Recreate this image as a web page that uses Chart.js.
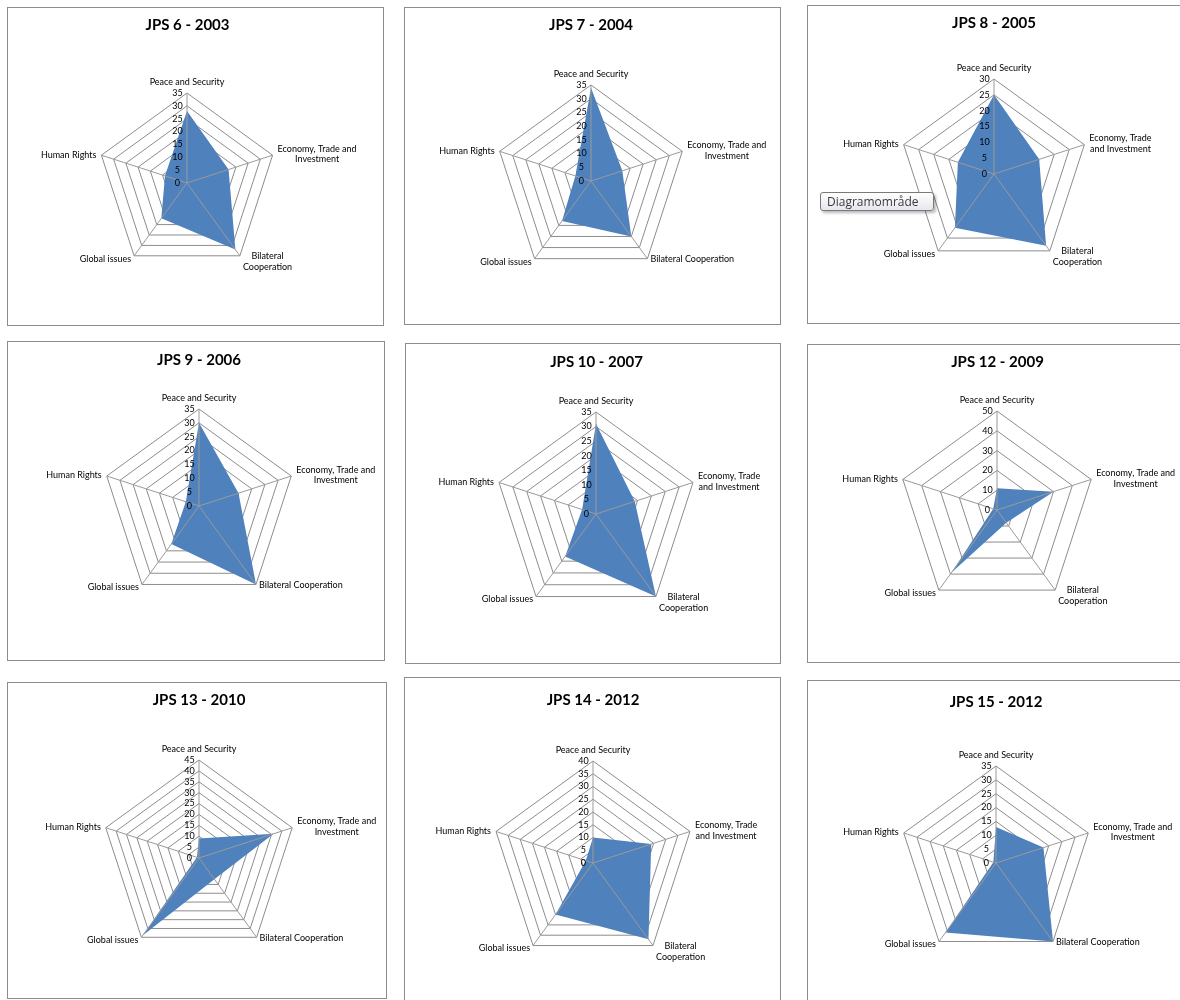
<!DOCTYPE html>
<html>
<head>
<meta charset="utf-8">
<title>JPS radar charts</title>
<script src="https://cdn.jsdelivr.net/npm/chart.js@4.4.1/dist/chart.umd.min.js"></script>
<style>
  html, body { margin: 0; padding: 0; background: #ffffff; width: 1180px; height: 1000px; overflow: hidden; }
  .panel { position: absolute; box-sizing: border-box; border: 1px solid #8d8d8d; background: #ffffff; overflow: hidden; }
  .panel canvas { position: absolute; left: 0; top: 0; }
  .hint {
    position: absolute; left: 820px; top: 192px; width: 114px; height: 19px; box-sizing: border-box;
    border: 1px solid #7a7a7a; border-radius: 3px;
    background: linear-gradient(#ffffff, #e6e7ee);
    box-shadow: 2px 2px 3px rgba(0, 0, 0, 0.28);
    font: 12px "Open Sans", sans-serif; color: #3b3b3b; line-height: 17px; padding-left: 6px;
    z-index: 5; white-space: nowrap;
  }
</style>
</head>
<body>
<div id="board"></div>
<div class="hint">Diagramområde</div>
<script>
// ---- data -------------------------------------------------------------
const categories = ['Peace and Security', 'Economy, Trade and Investment', 'Bilateral Cooperation', 'Global issues', 'Human Rights'];
const titles = ['JPS 6 - 2003', 'JPS 7 - 2004', 'JPS 8 - 2005', 'JPS 9 - 2006', 'JPS 10 - 2007',
                'JPS 12 - 2009', 'JPS 13 - 2010', 'JPS 14 - 2012', 'JPS 15 - 2012'];

const jps6  = [28, 17, 32, 17, 9];
const jps7  = [34, 12, 25, 18, 6];
const jps8  = [25, 15, 28, 21, 12];
const jps9  = [30, 15, 35, 17, 5];
const jps10 = [31, 14, 35, 18, 5];
const jps12 = [11, 30, 8, 39, 2];
const jps13 = [9, 36, 12, 44, 1];
const jps14 = [10, 24, 37, 25, 3];
const jps15 = [13, 18, 35, 31, 1];
const series = [jps6, jps7, jps8, jps9, jps10, jps12, jps13, jps14, jps15];

// value axis: top of scale and step between rings
const axisMax  = [35, 35, 30, 35, 35, 50, 45, 40, 35];
const axisStep = [5, 5, 5, 5, 5, 10, 5, 5, 5];

// how the two long category names wrap in each panel
const econLinesA = ['Economy, Trade and', 'Investment'];
const econLinesB = ['Economy, Trade', 'and Investment'];
const bilatLines1 = ['Bilateral Cooperation'];
const bilatLines2 = ['Bilateral', 'Cooperation'];
const econWrap  = ['A', 'A', 'B', 'A', 'B', 'A', 'A', 'B', 'A'];
const bilatWrap = [2, 1, 2, 1, 2, 2, 1, 2, 1];

// ---- layout -----------------------------------------------------------
// frame: [left, top, width, height]; centre/radius of the radar web; title centre line
const panels = [
  { frame: [7, 7, 377, 319],     titleY: 25,    centre: [187.5, 183.5], radius: 90.5 },
  { frame: [404, 7, 377, 318],   titleY: 25,    centre: [591, 181],     radius: 96 },
  { frame: [807, 5, 380, 319],   titleY: 23,    centre: [994, 174],     radius: 95 },
  { frame: [7, 341, 378, 320],   titleY: 360,   centre: [199, 505.7],   radius: 96.7 },
  { frame: [405, 343, 376, 321], titleY: 361.7, centre: [596.5, 514],   radius: 102 },
  { frame: [807, 344, 380, 319], titleY: 362.3, centre: [997.5, 510],   radius: 99 },
  { frame: [7, 682, 380, 317],   titleY: 700,   centre: [199, 858.5],   radius: 98.5 },
  { frame: [404, 677, 377, 330], titleY: 700,   centre: [593, 862.7],   radius: 101.7 },
  { frame: [807, 680, 380, 330], titleY: 701.7, centre: [996, 863.3],   radius: 96.7 }
];

const FAMILY = 'Lato, "Open Sans", sans-serif';
const TITLE_SIZE = 15;
const TITLE_LH = TITLE_SIZE * 1.2;
const LABEL_SIZE = 9;
const TICK_SIZE = 9;
const FILL = '#4f81bd';
const GRID = '#8c8c8c';
const SPOKE = '#9a9a9a';
// trailing spaces push the value labels to the left of the vertical spoke
const TICK_PAD = '\u2003\u2003\u2002\u2009';

Chart.defaults.font.family = FAMILY;
Chart.defaults.color = '#000000';

// Category names placed around the web the way office charts do it:
// side labels centred on their vertex, wrapped lines centred on each other.
const webLabels = {
  id: 'webLabels',
  afterDraw(chart, args, opts) {
    const s = chart.scales.r;
    const ctx = chart.ctx;
    const lh = LABEL_SIZE * 1.2;
    ctx.save();
    ctx.font = `${LABEL_SIZE}px ${FAMILY}`;
    ctx.fillStyle = '#000000';
    ctx.textAlign = 'center';
    ctx.textBaseline = 'middle';
    const n = opts.lines.length;
    opts.lines.forEach((block, i) => {
      const v = s.getPointPosition(i, s.drawingArea);
      const bw = Math.max(...block.map(t => ctx.measureText(t).width));
      const bh = block.length * lh;
      const deg = i * 360 / n;
      let x, y0;
      if (deg === 0) {
        x = v.x; y0 = v.y - 11 - (block.length - 1) * lh;
      } else if (deg < 90) {
        x = v.x + 5 + bw / 2; y0 = v.y - 1 - bh / 2 + lh / 2;
      } else if (deg < 180) {
        x = v.x + 3 + bw / 2; y0 = v.y + 0.5;
      } else if (deg < 270) {
        x = v.x - 3 - bw / 2; y0 = v.y + 3;
      } else {
        x = v.x - 5 - bw / 2; y0 = v.y - 0.5 - bh / 2 + lh / 2;
      }
      block.forEach((t, k) => ctx.fillText(t, x, y0 + k * lh));
    });
    // value label at the centre of the web
    const t0 = chart.scales.r2.ticks[0];
    if (t0) {
      ctx.font = `${TICK_SIZE}px ${FAMILY}`;
      ctx.fillText(t0.label, s.xCenter, s.yCenter);
    }
    ctx.restore();
  }
};

// Two identical radial scales: the back one carries the rings, the front one
// the spokes and value labels, so those stay visible over the filled area.
function radialScale(max, step, front) {
  return {
    type: 'radialLinear',
    min: 0,
    max: max,
    beginAtZero: true,
    grid: { display: !front, color: GRID, lineWidth: 1, z: front ? 1 : -1 },
    angleLines: { display: front, color: SPOKE, lineWidth: 1 },
    pointLabels: { display: false },
    ticks: {
      z: front ? 1 : 0,
      stepSize: step,
      showLabelBackdrop: false,
      color: front ? '#000000' : 'rgba(0,0,0,0)',
      font: { size: TICK_SIZE, family: FAMILY },
      callback: v => v + TICK_PAD
    }
  };
}

const board = document.getElementById('board');

panels.forEach((p, idx) => {
  const [fx, fy, fw, fh] = p.frame;
  const div = document.createElement('div');
  div.className = 'panel';
  Object.assign(div.style, { left: fx + 'px', top: fy + 'px', width: fw + 'px', height: fh + 'px' });
  const canvas = document.createElement('canvas');
  const cw = fw - 2, ch = fh - 2;
  canvas.width = cw; canvas.height = ch;
  canvas.style.width = cw + 'px'; canvas.style.height = ch + 'px';
  div.appendChild(canvas);
  board.appendChild(div);

  // target geometry in canvas pixels
  const tx = p.centre[0] - fx - 1;
  const ty = p.centre[1] - fy - 1;
  const tr = p.radius;

  const titleTop = p.titleY - fy - 1 - TITLE_LH / 2;
  const areaTop = ty - tr - 6.5;
  const titlePad = { top: titleTop, bottom: areaTop - titleTop - TITLE_LH };
  const diff = 2 * tx - cw;
  const layoutPad = {
    left: diff > 0 ? diff : 0,
    right: diff < 0 ? -diff : 0,
    top: 0,
    bottom: ch - areaTop - 2 * tr - 13
  };

  const lines = [
    [categories[0]],
    econWrap[idx] === 'A' ? econLinesA : econLinesB,
    bilatWrap[idx] === 2 ? bilatLines2 : bilatLines1,
    [categories[3]],
    [categories[4]]
  ];

  const chart = new Chart(canvas, {
    type: 'radar',
    data: {
      labels: categories,
      datasets: [{
        label: titles[idx],
        data: series[idx],
        backgroundColor: FILL,
        borderColor: 'rgba(0,0,0,0)',
        borderWidth: 0,
        pointRadius: 0,
        pointHoverRadius: 0,
        fill: true,
        tension: 0
      }]
    },
    options: {
      responsive: false,
      devicePixelRatio: 1,
      animation: false,
      events: [],
      layout: { padding: layoutPad },
      plugins: {
        legend: { display: false },
        tooltip: { enabled: false },
        title: {
          display: true,
          text: titles[idx],
          color: '#000000',
          font: { size: TITLE_SIZE, weight: 'bold', family: FAMILY, lineHeight: 1.2 },
          padding: titlePad
        },
        webLabels: { lines: lines }
      },
      scales: {
        r: radialScale(axisMax[idx], axisStep[idx], false),
        r2: radialScale(axisMax[idx], axisStep[idx], true)
      }
    },
    plugins: [webLabels]
  });

  // nudge the paddings until the web sits where the layout wants it
  for (let k = 0; k < 10; k++) {
    const s = chart.scales.r;
    const ex = tx - s.xCenter, ey = ty - s.yCenter, er = tr - s.drawingArea;
    if (Math.abs(ex) < 0.6 && Math.abs(ey) < 0.6 && Math.abs(er) < 0.6) break;
    layoutPad.left += ex; layoutPad.right -= ex;
    if (layoutPad.left < 0) { layoutPad.right -= layoutPad.left; layoutPad.left = 0; }
    if (layoutPad.right < 0) { layoutPad.left -= layoutPad.right; layoutPad.right = 0; }
    titlePad.bottom += ey - er;
    layoutPad.bottom += -ey - er;
    chart.update('none');
  }
});
</script>
</body>
</html>
